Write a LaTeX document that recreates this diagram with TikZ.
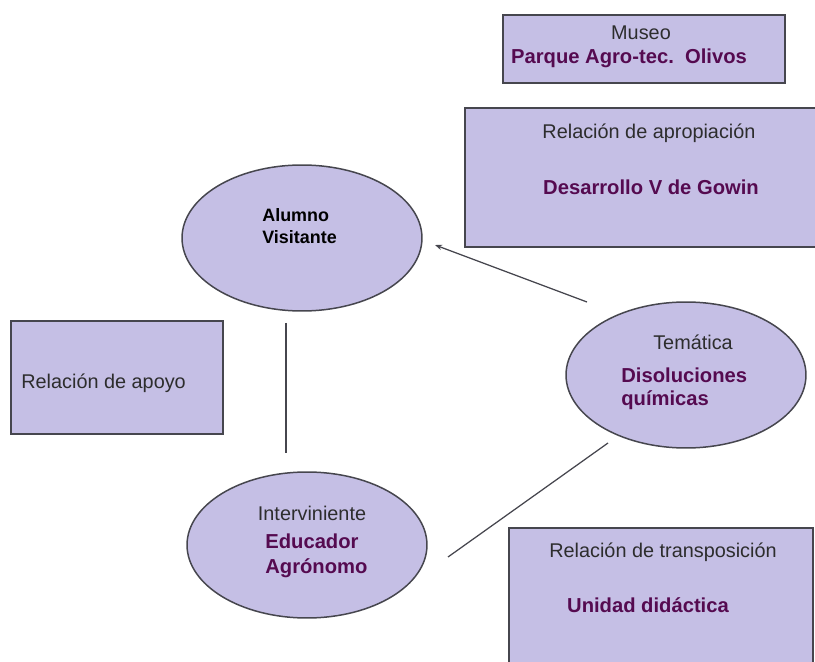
\documentclass[tikz,border=0pt]{standalone}
\usepackage{fontspec}
\setmainfont{Liberation Sans}
\usetikzlibrary{shapes.geometric,arrows.meta}
\definecolor{lila}{RGB}{197,191,229}
\definecolor{borde}{RGB}{70,70,78}
\definecolor{morado}{RGB}{85,10,80}
\definecolor{gris}{RGB}{45,45,45}
\tikzset{
	caja/.style={draw=borde, fill=lila, line width=0.3mm},
	ovalo/.style={ellipse, draw=borde, fill=lila, line width=0.3mm, minimum width=4.8cm, minimum height=2.92cm, inner sep=0pt},
	titulo/.style={text=gris, font=\fontsize{11.3}{13}\selectfont, inner sep=0pt},
	negrita/.style={text=morado, font=\fontsize{11.5}{13.5}\selectfont\bfseries, inner sep=0pt},
	enlace/.style={draw=borde, line width=0.25mm}
}

\begin{document}
\begin{tikzpicture}[x=0.02cm, y=-0.02cm]
			%%%%% START %%%%%
			\useasboundingbox (0, 0) rectangle (815, 662);
			
			\draw[caja] (503, 15) rectangle (785, 83);
			\node[titulo] (museo) at (641, 33) {Museo};
			\node[negrita] (parque) at (629, 58) {Parque Agro-tec.\ \ Olivos};
			
			\draw[caja] (465, 108) rectangle (822, 247);
			\node[titulo] (apropiacion) at (649, 133) {Relación de apropiación};
			\node[negrita] (gowin) at (651, 187) {Desarrollo V de Gowin};
			
			\draw[caja] (11, 321) rectangle (223, 434);
			\node[titulo, anchor=west] (apoyo) at (21, 383) {Relación de apoyo};
			
			\draw[caja] (509, 528) rectangle (813, 670);
			\node[titulo] (transposicion) at (663, 552) {Relación de transposición};
			\node[negrita] (unidad) at (648, 605) {Unidad didáctica};
			
			\node[ovalo] (alumno) at (302, 238) {};
			\node[negrita, text=black, font=\fontsize{10.2}{12.5}\selectfont\bfseries, align=left, anchor=west] (visitante) at (262, 226) {Alumno\\Visitante};
			
			\node[ovalo] (tematica) at (686, 375) {};
			\node[titulo] (tematicat) at (693, 342) {Temática};
			\node[negrita, align=left, anchor=west, font=\fontsize{11.5}{13}\selectfont\bfseries] (disoluciones) at (621, 388.5) {Disoluciones\\químicas};
			
			\node[ovalo] (interviniente) at (307, 545) {};
			\node[titulo] (intervinientet) at (312, 513) {Interviniente};
			\node[negrita, align=left, anchor=west, font=\fontsize{11.5}{14.2}\selectfont\bfseries] (educador) at (265, 555.5) {Educador\\Agrónomo};
			
			% enlaces
			\coordinate (flechaA) at (587, 302);
			\coordinate (flechaB) at (435, 245);
			\draw[enlace, -{Stealth[length=4pt, width=3pt]}] (flechaA) -- (flechaB);
			
			\coordinate (apoyoA) at (286, 323);
			\coordinate (apoyoB) at (286, 453);
			\draw[enlace] (apoyoA) -- (apoyoB);
			
			\coordinate (transA) at (608, 443);
			\coordinate (transB) at (448, 557);
			\draw[enlace] (transA) -- (transB);
			
			%%%%% END %%%%%
\end{tikzpicture}
\end{document}
